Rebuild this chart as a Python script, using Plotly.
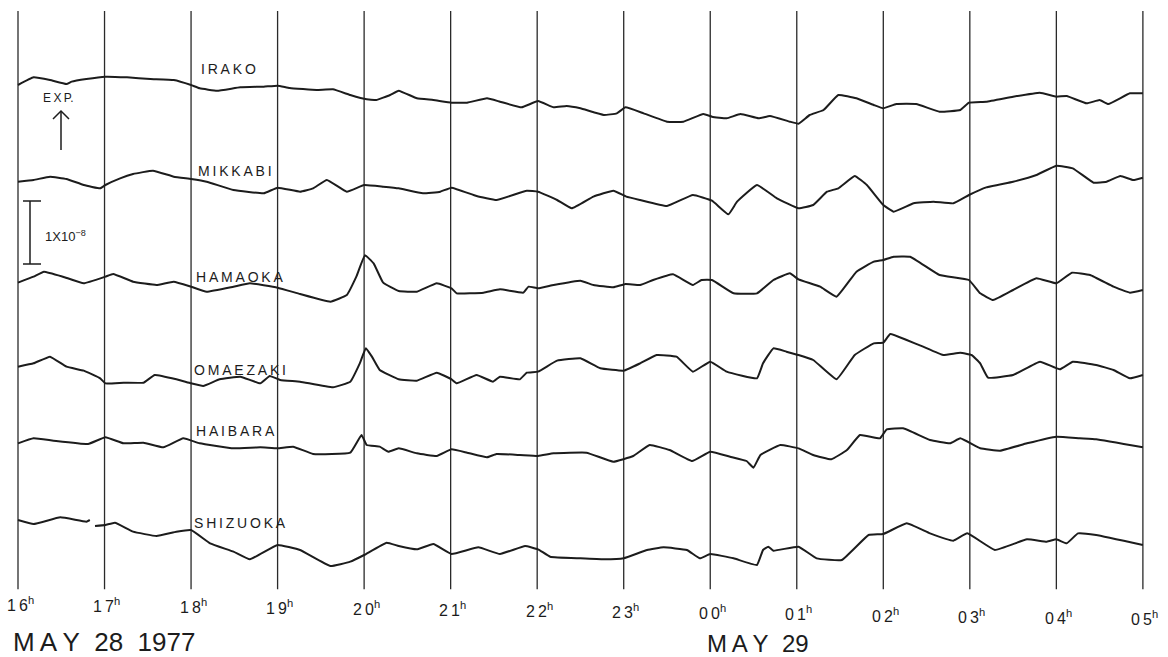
import plotly.graph_objects as go

W, H = 1168, 657

# ---------------- data ----------------
HOUR_TICKS = list(range(16, 30))          # 16h May 28 ... 05h May 29 (as 29)
HOUR_LABELS = ["16", "17", "18", "19", "20", "21", "22", "23",
               "00", "01", "02", "03", "04", "05"]
STATIONS = ["IRAKO", "MIKKABI", "HAMAOKA", "OMAEZAKI", "HAIBARA", "SHIZUOKA"]

# strain records, relative (expansion up); unit = 1e-8 / 189
irako_t = [16.00, 16.18, 16.37, 16.56, 16.62, 16.79, 17.01, 17.26, 17.53, 17.80, 18.00, 18.10,
           18.30, 18.57, 18.84, 19.00, 19.14, 19.45, 19.64, 19.84, 20.03, 20.14, 20.30, 20.40,
           20.61, 20.80, 21.01, 21.19, 21.42, 21.57, 21.82, 22.01, 22.19, 22.34, 22.50, 22.77,
           22.92, 23.02, 23.23, 23.50, 23.69, 23.92, 24.02, 24.19, 24.35, 24.56, 24.69, 24.92,
           25.02, 25.15, 25.31, 25.48, 25.69, 25.89, 26.00, 26.15, 26.38, 26.65, 26.89, 26.99,
           27.19, 27.50, 27.81, 28.00, 28.12, 28.35, 28.50, 28.60, 28.85, 29.00]
irako_v = [0, 23, 15, 3, 10, 18, 25, 23, 18, 15, 0, -10,
           -17, -7, -5, -2, -9, -15, -13, -30, -43, -45, -30, -17,
           -40, -45, -53, -53, -40, -50, -67, -48, -67, -63, -70, -90,
           -85, -67, -85, -110, -110, -87, -95, -100, -87, -100, -93, -110,
           -116, -90, -75, -30, -40, -60, -70, -57, -57, -80, -75, -53,
           -50, -35, -23, -35, -33, -55, -45, -57, -25, -25]

mikkabi_t = [16.00, 16.18, 16.37, 16.56, 16.76, 16.95, 17.01, 17.18, 17.33, 17.56, 17.80, 18.00,
             18.18, 18.49, 18.84, 19.00, 19.26, 19.41, 19.57, 19.80, 20.00, 20.22, 20.40,
             20.68, 20.88, 21.01, 21.30, 21.53, 21.88, 22.01, 22.23, 22.40, 22.65, 22.88, 23.03,
             23.19, 23.50, 23.80, 24.02, 24.21, 24.31, 24.54, 24.77, 25.02,
             25.19, 25.35, 25.48, 25.67, 25.81, 26.00, 26.12, 26.35, 26.58, 26.81, 26.99, 27.19,
             27.50, 27.77, 28.00, 28.19, 28.43, 28.58, 28.74, 28.89, 29.00]
mikkabi_v = [0, 5, 15, 8, -10, -20, -10, 10, 23, 33, 15, 8,
             0, -25, -35, -18, -30, -20, 5, -30, -10, -15, -20,
             -35, -30, -18, -43, -55, -27, -30, -55, -80, -45, -27, -45,
             -55, -73, -40, -57, -98, -60, -10, -50, -80,
             -70, -30, -20, 17, -10, -70, -90, -65, -60, -65, -40, -17,
             0, 20, 48, 40, -3, 0, 17, 5, 12]

hamaoka_t = [16.00, 16.18, 16.30, 16.52, 16.76, 17.01, 17.10, 17.33, 17.60, 17.80, 18.00, 18.18,
             18.49, 18.68, 19.00, 19.26, 19.61, 19.80, 19.91, 20.01, 20.11, 20.22, 20.40,
             20.61, 20.84, 21.01, 21.07, 21.38, 21.57, 21.84, 21.90, 22.01, 22.19, 22.50, 22.65,
             22.88, 23.02, 23.19, 23.34, 23.57, 23.80, 23.90, 24.02, 24.27, 24.54, 24.73, 24.92,
             25.02, 25.27, 25.46, 25.69, 25.89, 26.00, 26.12, 26.31, 26.65, 26.99, 27.12, 27.27,
             27.50, 27.77, 28.00, 28.18, 28.39, 28.66, 28.85, 29.00]
hamaoka_v = [0, 18, 33, 18, -2, 18, 26, 3, -7, 3, -12, -27,
             -12, -2, -15, -34, -57, -37, 18, 82, 58, 0, -25,
             -27, -2, -17, -32, -30, -20, -30, -12, -17, -7, 6, -7,
             -14, -4, -7, 8, 25, -7, 8, 8, -32, -32, 8, 28,
             10, -12, -42, 33, 63, 68, 78, 78, 23, 8, -32, -52,
             -22, 13, -2, 30, 23, -12, -30, -22]

omaezaki_t = [16.00, 16.18, 16.37, 16.56, 16.76, 16.95, 17.01, 17.22, 17.45, 17.58, 17.83, 18.00,
              18.14, 18.33, 18.57, 18.80, 18.91, 19.03, 19.26, 19.64, 19.84, 19.95, 20.02, 20.09,
              20.18, 20.40,
              20.61, 20.84, 21.01, 21.07, 21.30, 21.49, 21.57, 21.80, 21.88, 22.01, 22.23, 22.50,
              22.73, 23.00, 23.19, 23.38, 23.61, 23.80, 24.00, 24.19, 24.54, 24.61, 24.73, 24.88,
              25.02, 25.19, 25.46, 25.67, 25.89, 26.00, 26.08, 26.27, 26.46, 26.69, 26.89, 27.02,
              27.12, 27.21, 27.50, 27.81, 28.04, 28.19, 28.46, 28.66, 28.85, 29.00]
omaezaki_v = [0, 10, 30, 0, -12, -35, -50, -48, -48, -25, -38, -50,
              -58, -38, -30, -50, -28, -40, -45, -62, -45, 10, 55, 30,
              -10, -38,
              -42, -18, -38, -50, -25, -45, -30, -38, -18, -15, 18, 25,
              -5, -12, 10, 35, 30, -15, 15, -15, -35, 10, 55, 45,
              35, 20, -38, 35, 70, 72, 98, 80, 60, 35, 42, 35,
              10, -33, -25, 15, -8, 15, 5, -10, -35, -25]

haibara_t = [16.00, 16.18, 16.41, 16.81, 17.01, 17.22, 17.45, 17.68, 17.91, 18.10, 18.49, 18.80,
             19.00, 19.18, 19.41, 19.84, 19.97, 20.03, 20.18, 20.28, 20.40,
             20.61, 20.84, 21.01, 21.19, 21.42, 21.53, 21.80, 22.01, 22.19, 22.57, 22.88, 23.11,
             23.30, 23.53, 23.79, 24.00, 24.23, 24.42, 24.50, 24.58, 24.81, 25.02,
             25.19, 25.40, 25.58, 25.73, 25.96, 26.04, 26.23, 26.54, 26.77, 26.89, 27.12, 27.35,
             27.66, 28.00, 28.27, 28.46, 29.00]
haibara_v = [0, 15, 8, -2, 18, 0, 2, -12, 15, 0, -15, -12,
             -15, -10, -32, -28, 25, -5, -10, -25, -15,
             -30, -38, -18, -28, -42, -32, -35, -38, -30, -28, -55, -38,
             -5, -20, -53, -25, -40, -53, -73, -35, -5, -15,
             -35, -48, -20, 25, 15, 42, 45, 10, 0, 15, -15, -22,
             0, 20, 15, 12, -12]

shizuoka_t = [16.00, 16.18, 16.49, 16.79, 16.83, 16.86, 16.89, 17.01, 17.12, 17.33, 17.60, 17.83,
              18.00, 18.22, 18.49, 18.68, 19.00, 19.26, 19.61, 19.84, 20.00, 20.26, 20.40,
              20.61, 20.80, 21.01, 21.32, 21.57, 21.86, 22.01, 22.15, 22.50, 22.77, 23.00, 23.27,
              23.46, 23.73, 23.88, 24.00, 24.27, 24.54, 24.61, 24.67, 24.73, 25.02,
              25.23, 25.52, 25.83, 26.00, 26.27, 26.54, 26.81, 26.97, 27.29, 27.66, 27.89, 28.00,
              28.12, 28.25, 28.46, 29.00]
shizuoka_v = [0, -12, 8, -5, 0, None, -18, -15, -8, -35, -48, -35,
              -30, -70, -95, -118, -75, -90, -138, -125, -105, -68, -78,
              -88, -72, -102, -82, -102, -78, -88, -110, -115, -118, -115, -90,
              -82, -90, -115, -102, -115, -135, -90, -80, -92, -80,
              -115, -120, -45, -42, -10, -40, -62, -40, -90, -58, -65, -58,
              -70, -40, -45, -75]

SERIES_T = [irako_t, mikkabi_t, hamaoka_t, omaezaki_t, haibara_t, shizuoka_t]
SERIES_V = [irako_v, mikkabi_v, hamaoka_v, omaezaki_v, haibara_v, shizuoka_v]

# ---------------- layout helpers ----------------
TRACE_OFFSETS = [255, 545, 848, 1100, 1330, 1560]   # baseline depth of each record
UNITS_PER_PX = 3
X0, X1 = 16 - 18 / 86.53, 16 + 1150 / 86.53


def px(x):
    return x / W


def py(y):
    return 1 - y / H


INK = "#1c1c1c"
FONT = "Liberation Sans, Arial, sans-serif"

fig = go.Figure()

# hour lines
vx, vy = [], []
for h in HOUR_TICKS:
    vx += [h, h, None]
    vy += [-33, -1768, None]
fig.add_trace(go.Scatter(x=vx, y=vy, mode="lines", line=dict(color="#2a2a2a", width=1.3),
                         hoverinfo="skip", showlegend=False))

for name, t, v, off in zip(STATIONS, SERIES_T, SERIES_V, TRACE_OFFSETS):
    y = [None if val is None else val - off for val in v]
    fig.add_trace(go.Scatter(x=t, y=y, mode="lines", name=name,
                             line=dict(color=INK, width=2.0, shape="spline", smoothing=0.3),
                             connectgaps=False, showlegend=False))

annotations = []
# station names
label_pos = [(199, 69), (196, 171), (194, 277), (192, 370), (194, 431), (192, 523)]
for name, (lx, ly) in zip(STATIONS, label_pos):
    annotations.append(dict(xref="paper", yref="paper", x=px(lx), y=py(ly),
                            text="\u2009".join(name), showarrow=False, xanchor="left",
                            yanchor="middle", font=dict(family=FONT, size=14, color=INK)))

# hour labels
for i, (h, lab) in enumerate(zip(HOUR_TICKS, HOUR_LABELS)):
    annotations.append(dict(xref="x", yref="paper", x=h, y=py(604 + i * 1.05),
                            text="\u2009".join(lab) + "<sup>h</sup>", showarrow=False,
                            xanchor="center", yanchor="middle", xshift=2,
                            font=dict(family=FONT, size=16, color=INK)))

annotations.append(dict(xref="paper", yref="paper", x=px(11), y=py(642),
                        text="M\u2009A\u2009Y\u00a0\u00a028\u00a0\u00a01977", showarrow=False,
                        xanchor="left", yanchor="middle",
                        font=dict(family=FONT, size=26, color=INK)))
annotations.append(dict(xref="paper", yref="paper", x=px(705), y=py(643),
                        text="M\u2009A\u2009Y\u00a0\u00a029", showarrow=False,
                        xanchor="left", yanchor="middle",
                        font=dict(family=FONT, size=24, color=INK)))
annotations.append(dict(xref="paper", yref="paper", x=px(41), y=py(98),
                        text="E\u2009X\u2009P.", showarrow=False, xanchor="left", yanchor="middle",
                        font=dict(family=FONT, size=12, color=INK)))
annotations.append(dict(xref="paper", yref="paper", x=px(43), y=py(236),
                        text="1X10<sup>\u22128</sup>", showarrow=False, xanchor="left",
                        yanchor="middle", font=dict(family=FONT, size=13, color=INK)))

shapes = [
    # EXP arrow
    dict(type="line", xref="paper", yref="paper", x0=px(61), x1=px(61), y0=py(150), y1=py(111),
         line=dict(color=INK, width=1.5)),
    dict(type="path", xref="paper", yref="paper",
         path=f"M {px(53)},{py(119)} L {px(61)},{py(111)} L {px(69)},{py(119)}",
         line=dict(color=INK, width=1.5)),
    # 1e-8 scale bar
    dict(type="line", xref="paper", yref="paper", x0=px(30), x1=px(30), y0=py(201), y1=py(264),
         line=dict(color=INK, width=1.5)),
    dict(type="line", xref="paper", yref="paper", x0=px(23), x1=px(41), y0=py(201), y1=py(201),
         line=dict(color=INK, width=1.5)),
    dict(type="line", xref="paper", yref="paper", x0=px(23), x1=px(41), y0=py(264), y1=py(264),
         line=dict(color=INK, width=1.5)),
]

fig.update_layout(
    width=W, height=H,
    margin=dict(l=0, r=0, t=0, b=0),
    paper_bgcolor="white", plot_bgcolor="white",
    xaxis=dict(range=[X0, X1], visible=False, fixedrange=True),
    yaxis=dict(range=[-H * UNITS_PER_PX, 0], visible=False, fixedrange=True),
    annotations=annotations, shapes=shapes,
)

fig.write_html("out.html", config={"displayModeBar": False})

# remove the browser's default page margin so the figure fills the window exactly
with open("out.html", encoding="utf-8") as f:
    page = f.read()
page = page.replace("<head>", "<head><style>html,body{margin:0;padding:0;overflow:hidden;}</style>", 1)
with open("out.html", "w", encoding="utf-8") as f:
    f.write(page)
